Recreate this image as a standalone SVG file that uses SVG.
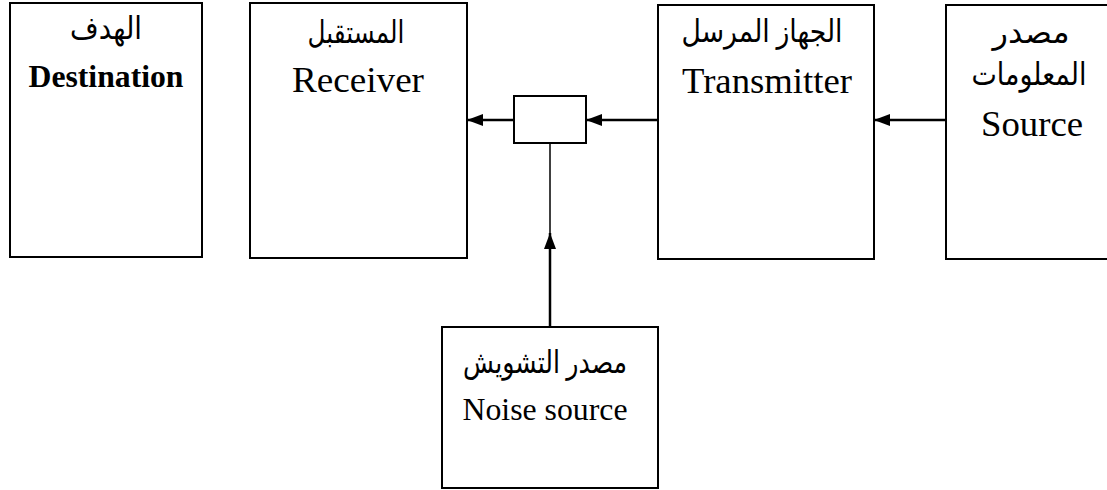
<svg xmlns="http://www.w3.org/2000/svg" width="1107" height="490" viewBox="0 0 1107 490">
<defs>
<marker id="ah" markerWidth="16" markerHeight="12" refX="16" refY="6" orient="auto" markerUnits="userSpaceOnUse">
<path d="M0,0 L16,6 L0,12 Z" fill="#000"/>
</marker>
<style>
.box{fill:#fff;stroke:#000;stroke-width:2}
.en{font-family:"Liberation Serif","Times New Roman",serif;font-size:35px;fill:#000;text-anchor:middle}
.sm{font-size:31px}
.ar{font-family:"Liberation Serif","DejaVu Serif","DejaVu Sans",serif;font-size:31px;fill:#000;text-anchor:middle}
.b{font-weight:bold}
.ln{stroke:#000;stroke-width:2.5;fill:none}
.thin{stroke:#000;stroke-width:1.5;fill:none}
</style>
</defs>
<rect width="1107" height="490" fill="#fff"/>
<g id="connectors">
<line class="ln" x1="514" y1="120" x2="467" y2="120" marker-end="url(#ah)"/>
<line class="ln" x1="658" y1="120" x2="586" y2="120" marker-end="url(#ah)"/>
<line class="ln" x1="946" y1="120" x2="874" y2="120" marker-end="url(#ah)"/>
<line class="ln" x1="550" y1="327" x2="550" y2="233" marker-end="url(#ah)"/>
<line class="thin" x1="550" y1="143" x2="550" y2="235"/>
</g>
<g id="destination">
<rect class="box" x="10" y="3" width="192" height="254"/>
<text class="ar" x="106" y="39" textLength="72" lengthAdjust="spacingAndGlyphs">الهدف</text>
<text class="en sm b" x="106" y="87" textLength="155" lengthAdjust="spacingAndGlyphs">Destination</text>
</g>
<g id="receiver">
<rect class="box" x="250" y="3" width="217" height="255"/>
<text class="ar" x="356" y="43" textLength="97" lengthAdjust="spacingAndGlyphs">المستقبل</text>
<text class="en" x="358" y="92" textLength="132" lengthAdjust="spacingAndGlyphs">Receiver</text>
</g>
<g id="channel">
<rect class="box" x="514" y="96" width="72" height="47"/>
</g>
<g id="transmitter">
<rect class="box" x="658" y="5" width="216" height="254"/>
<text class="ar" x="762" y="42" textLength="161" lengthAdjust="spacingAndGlyphs">الجهاز المرسل</text>
<text class="en" x="767" y="93" textLength="170" lengthAdjust="spacingAndGlyphs">Transmitter</text>
</g>
<g id="source">
<rect class="box" x="946" y="5" width="170" height="254"/>
<text class="ar" x="1031" y="43" textLength="77" lengthAdjust="spacingAndGlyphs">مصدر</text>
<text class="ar" x="1029" y="85" textLength="115" lengthAdjust="spacingAndGlyphs">المعلومات</text>
<text class="en" x="1032" y="136" textLength="102" lengthAdjust="spacingAndGlyphs">Source</text>
</g>
<g id="noise">
<rect class="box" x="442" y="327" width="216" height="161"/>
<text class="ar" x="545" y="373" textLength="164" lengthAdjust="spacingAndGlyphs">مصدر التشويش</text>
<text class="en sm" x="545" y="420" textLength="165" lengthAdjust="spacingAndGlyphs">Noise source</text>
</g>
</svg>
